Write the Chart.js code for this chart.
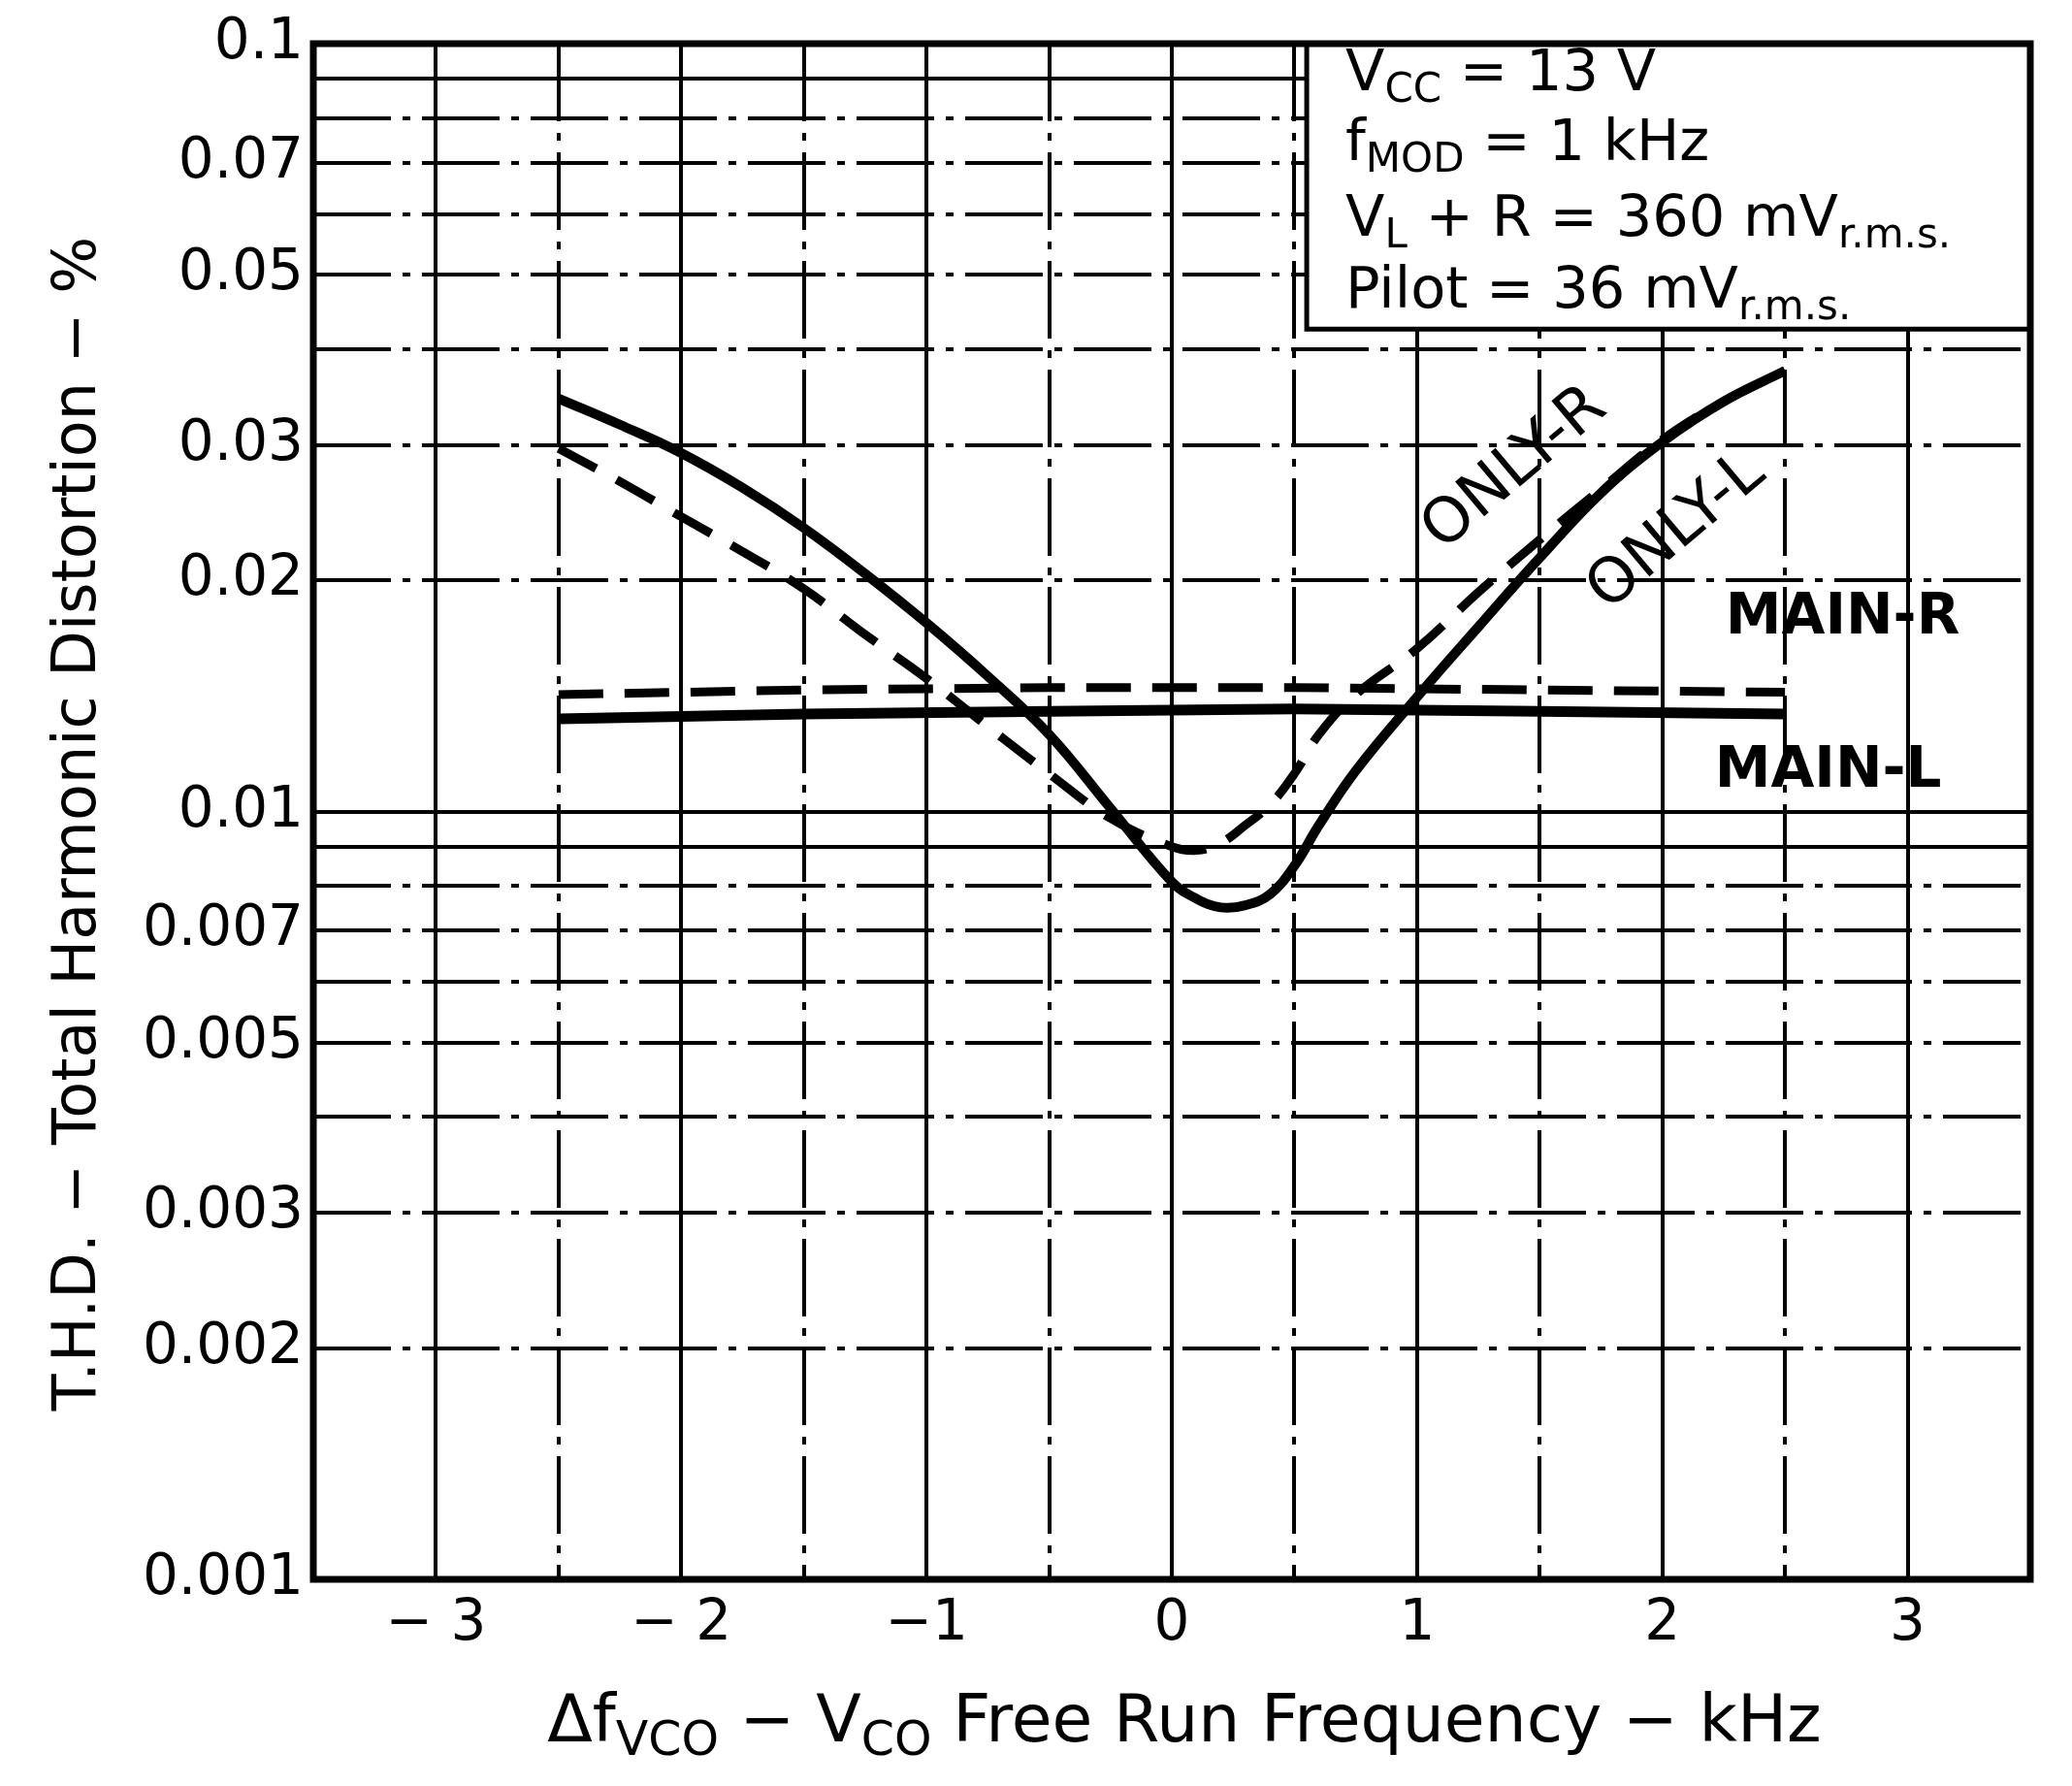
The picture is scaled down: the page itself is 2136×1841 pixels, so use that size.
<!DOCTYPE html>
<html>
<head>
<meta charset="utf-8">
<script src="https://cdn.jsdelivr.net/npm/chart.js@4.4.1/dist/chart.umd.min.js"></script>
<style>
  html, body { margin: 0; padding: 0; background: #fff; }
  #wrap { width: 2136px; height: 1841px; }
</style>
</head>
<body>
<div id="wrap"><canvas id="myChart" width="2136" height="1841"></canvas></div>
<script>
// frequency offset in kHz, shared by the two ONLY curves
const freq_khz = [-2.5, -2.25, -2, -1.75, -1.5, -1.25, -1, -0.75, -0.5, -0.25, 0, 0.1, 0.2, 0.3, 0.4, 0.5, 0.6, 0.75, 1, 1.25, 1.5, 1.75, 2, 2.25, 2.5];
// THD in %
const thd_only_l = [0.0345, 0.0319, 0.0293, 0.0264, 0.0234, 0.0204, 0.0176, 0.0150, 0.0126, 0.0101, 0.0081, 0.0077, 0.0075, 0.00755, 0.0078, 0.0085, 0.0096, 0.0113, 0.0141, 0.0174, 0.0214, 0.0260, 0.0303, 0.0342, 0.0375];
const thd_only_r = [0.0297, 0.0269, 0.0242, 0.0218, 0.0195, 0.0170, 0.0149, 0.0129, 0.0112, 0.0098, 0.0090, 0.0089, 0.0091, 0.0096, 0.0102, 0.0112, 0.0126, 0.0142, 0.0163, 0.0193, 0.0226, 0.0263, 0.0305, 0.0342, 0.0375];

const freq_main = [-2.5, -1.5, -0.5, 0.5, 1.5, 2.5];
const thd_main_r = [0.0142, 0.0144, 0.0145, 0.0145, 0.0144, 0.0143];
const thd_main_l = [0.0132, 0.0134, 0.0135, 0.0136, 0.0135, 0.0134];

const x_tick_values = [-3, -2, -1, 0, 1, 2, 3];
const x_tick_labels = ['\u2212 3', '\u2212 2', '\u22121', '0', '1', '2', '3'];
const y_tick_values = [0.001, 0.002, 0.003, 0.005, 0.007, 0.01, 0.02, 0.03, 0.05, 0.07, 0.1];
const y_tick_labels = ['0.001', '0.002', '0.003', '0.005', '0.007', '0.01', '0.02', '0.03', '0.05', '0.07', '0.1'];

// test conditions box, [text, subscript?]
const cond_lines = [
  [['V', 0], ['CC', 1], [' = 13 V', 0]],
  [['f', 0], ['MOD', 1], [' = 1 kHz', 0]],
  [['V', 0], ['L', 1], [' + R = 360 mV', 0], ['r.m.s.', 1]],
  [['Pilot = 36 mV', 0], ['r.m.s.', 1]]
];

const curve_labels = [
  { text: 'ONLY-R', x: 1.40, y: 0.0279, rot: -40, bold: false },
  { text: 'ONLY-L', x: 2.06, y: 0.0231, rot: -40, bold: false },
  { text: 'MAIN-R', x: 2.735, y: 0.0178, rot: 0, bold: true },
  { text: 'MAIN-L', x: 2.676, y: 0.01125, rot: 0, bold: true }
];

const FONT = '"DejaVu Sans"';

function to_points(xs, ys) {
  return xs.map((v, i) => ({ x: v, y: ys[i] }));
}

function find_label(vals, labels, value) {
  const i = vals.findIndex(t => Math.abs(t - value) < Math.abs(t) * 1e-6 + 1e-9);
  return i >= 0 ? labels[i] : '';
}

function draw_rich(ctx, parts, x, y, size, align) {
  const sub = Math.round(size * 0.72);
  let w = 0;
  parts.forEach(p => {
    ctx.font = (p[1] ? sub : size) + 'px ' + FONT;
    w += ctx.measureText(p[0]).width;
  });
  let cx = align === 'center' ? x - w / 2 : x;
  ctx.textAlign = 'left';
  ctx.textBaseline = 'alphabetic';
  parts.forEach(p => {
    ctx.font = (p[1] ? sub : size) + 'px ' + FONT;
    ctx.fillText(p[0], cx, p[1] ? y + size * 0.2 : y);
    cx += ctx.measureText(p[0]).width;
  });
}

// log grid: 1..9 in each decade
const y_grid = [];
[0.001, 0.01].forEach(d => {
  for (let m = 1; m <= 9; m++) y_grid.push(+(m * d).toPrecision(3));
});
y_grid.push(0.1);

const grid_dash = [80, 12, 8, 12];

const chart_decor = {
  id: 'chart_decor',
  beforeDatasetsDraw(chart) {
    const { ctx, chartArea, scales } = chart;
    const bx = scales.x.getPixelForValue(0.55);
    const by = scales.y.getPixelForValue(0.0425);
    ctx.save();
    ctx.fillStyle = '#fff';
    ctx.fillRect(bx, chartArea.top, chartArea.right - bx, by - chartArea.top);
    ctx.strokeStyle = '#000';
    ctx.lineWidth = 5;
    ctx.beginPath();
    ctx.moveTo(bx, chartArea.top);
    ctx.lineTo(bx, by);
    ctx.lineTo(chartArea.right, by);
    ctx.stroke();
    ctx.fillStyle = '#000';
    const base = [48, 120, 198, 272];
    cond_lines.forEach((ln, i) => {
      draw_rich(ctx, ln, bx + 40, chartArea.top + base[i], 59, 'left');
    });
    ctx.restore();
  },
  afterDatasetsDraw(chart) {
    const { ctx, chartArea, scales } = chart;
    ctx.save();
    ctx.strokeStyle = '#000';
    ctx.lineWidth = 7;
    ctx.strokeRect(chartArea.left, chartArea.top, chartArea.right - chartArea.left, chartArea.bottom - chartArea.top);
    ctx.fillStyle = '#000';
    ctx.textAlign = 'center';
    ctx.textBaseline = 'middle';
    curve_labels.forEach(l => {
      ctx.save();
      ctx.translate(scales.x.getPixelForValue(l.x), scales.y.getPixelForValue(l.y));
      ctx.rotate(l.rot * Math.PI / 180);
      ctx.font = (l.bold ? 'bold 58px ' : '64px ') + FONT;
      ctx.fillText(l.text, 0, 0);
      ctx.restore();
    });
    ctx.restore();
  },
  afterDraw(chart) {
    const { ctx } = chart;
    ctx.save();
    ctx.fillStyle = '#000';
    draw_rich(ctx, [['\u0394f', 0], ['VCO', 1], [' \u2212 V', 0], ['CO', 1], [' Free Run Frequency \u2212 kHz', 0]], 1221, 1795, 68, 'center');
    ctx.translate(98, 849);
    ctx.rotate(-Math.PI / 2);
    ctx.font = '62px ' + FONT;
    ctx.textAlign = 'center';
    ctx.textBaseline = 'alphabetic';
    ctx.fillText('T.H.D. \u2212 Total Harmonic Distortion \u2212 %', 0, 0);
    ctx.restore();
  }
};

Chart.defaults.font.family = FONT;
Chart.defaults.color = '#000';

const ctx = document.getElementById('myChart');
const data = {
  datasets: [
    {
      label: 'ONLY-L',
      data: to_points(freq_khz, thd_only_l),
      borderColor: '#000',
      borderWidth: 10,
      pointRadius: 0,
      tension: 0.4
    },
    {
      label: 'ONLY-R',
      data: to_points(freq_khz, thd_only_r),
      borderColor: '#000',
      borderWidth: 9,
      borderDash: [44, 24],
      pointRadius: 0,
      tension: 0.4
    },
    {
      label: 'MAIN-R',
      data: to_points(freq_main, thd_main_r),
      borderColor: '#000',
      borderWidth: 9,
      borderDash: [46, 22],
      pointRadius: 0,
      tension: 0
    },
    {
      label: 'MAIN-L',
      data: to_points(freq_main, thd_main_l),
      borderColor: '#000',
      borderWidth: 11,
      pointRadius: 0,
      tension: 0
    }
  ]
};

const config = {
  type: 'line',
  data: data,
  options: {
    responsive: false,
    animation: false,
    devicePixelRatio: 1,
    layout: { padding: { top: 45, right: 43, left: 0, bottom: 0 } },
    scales: {
      x: {
        type: 'linear',
        min: -3.5,
        max: 3.5,
        afterFit: (s) => { s.height = 213; },
        ticks: {
          stepSize: 0.5,
          autoSkip: false,
          maxRotation: 0,
          padding: 12,
          font: { size: 58 },
          callback: (v) => find_label(x_tick_values, x_tick_labels, v)
        },
        grid: { color: '#000', lineWidth: 4, drawTicks: false },
        border: {
          display: false,
          dash: (c) => (c.tick && Number.isInteger(c.tick.value)) ? [] : grid_dash
        }
      },
      y: {
        type: 'logarithmic',
        min: 0.001,
        max: 0.1,
        afterFit: (s) => { s.width = 323; },
        afterBuildTicks: (s) => { s.ticks = y_grid.map(v => ({ value: v })); },
        ticks: {
          autoSkip: false,
          padding: 10,
          font: { size: 58 },
          callback: (v) => find_label(y_tick_values, y_tick_labels, v)
        },
        grid: { color: '#000', lineWidth: 4, drawTicks: false },
        border: {
          display: false,
          dash: (c) => {
            if (!c.tick) return [];
            const v = c.tick.value;
            const m = v / Math.pow(10, Math.floor(Math.log10(v) + 1e-9));
            return Math.abs(m - 1) < 1e-6 || Math.abs(m - 9) < 1e-6 ? [] : grid_dash;
          }
        }
      }
    },
    plugins: {
      legend: { display: false },
      tooltip: { enabled: false }
    }
  },
  plugins: [chart_decor]
};

let chart = new Chart(ctx, config);
</script>
</body>
</html>
